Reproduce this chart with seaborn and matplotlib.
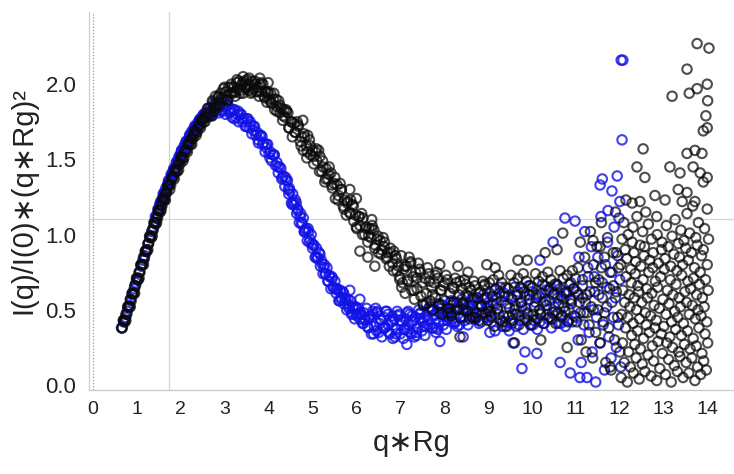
import numpy as np
import pandas as pd
import matplotlib
matplotlib.use("Agg")
import matplotlib.pyplot as plt
import seaborn as sns

# ---------------- data: (q*Rg, I(q)/I(0)*(q*Rg)^2) ----------------
black_rise = [(0.65,0.38),(0.67,0.38),(0.69,0.43),(0.71,0.43),(0.73,0.42),(0.75,0.47),(0.77,0.47),(0.79,0.52),(0.81,0.52),(0.83,0.52),
    (0.85,0.57),(0.87,0.56),(0.89,0.61),(0.91,0.61),(0.93,0.61),(0.95,0.66),(0.97,0.66),(0.99,0.71),(1.01,0.70),(1.03,0.70),
    (1.05,0.75),(1.07,0.75),(1.09,0.80),(1.11,0.80),(1.13,0.80),(1.15,0.85),(1.17,0.84),(1.19,0.89),(1.21,0.89),(1.23,0.89),
    (1.25,0.94),(1.27,0.94),(1.29,0.99),(1.31,0.98),(1.33,0.98),(1.35,1.03),(1.37,1.03),(1.39,1.08),(1.41,1.08),(1.43,1.07),
    (1.45,1.12),(1.47,1.11),(1.49,1.16),(1.51,1.16),(1.53,1.15),(1.55,1.20),(1.57,1.19),(1.59,1.24),(1.61,1.23),(1.63,1.23),
    (1.65,1.27),(1.68,1.28),(1.71,1.33),(1.74,1.33),(1.77,1.33),(1.80,1.38),(1.83,1.38),(1.86,1.43),(1.89,1.42),(1.92,1.42),
    (1.95,1.47),(1.98,1.47),(2.01,1.52),(2.04,1.51),(2.07,1.51),(2.10,1.56),(2.13,1.56),(2.16,1.60),(2.19,1.60),(2.22,1.60),
    (2.25,1.64),(2.28,1.64),(2.31,1.69),(2.34,1.68),(2.37,1.68),(2.40,1.72),(2.43,1.72),(2.46,1.76),(2.49,1.76),(2.52,1.75),
    (2.55,1.79),(2.58,1.78),
    (0.70,0.43),(0.75,0.43),(0.80,0.52),(0.85,0.52),(0.90,0.61),(0.95,0.61),(1.00,0.71),(1.05,0.71),(1.10,0.80),(1.15,0.80),
    (1.20,0.89),(1.25,0.90),(1.30,0.99),(1.35,0.99),(1.40,1.08),(1.45,1.08),(1.50,1.16),(1.55,1.16),(1.60,1.24),(1.65,1.23),
    (1.70,1.31),(1.75,1.30),(1.80,1.38),(1.85,1.37),(1.90,1.44),(1.95,1.43),(2.00,1.50),(2.05,1.49),(2.10,1.56),(2.15,1.55),
    (2.20,1.62),(2.25,1.60),(2.30,1.67),(2.35,1.66),(2.40,1.72),(2.45,1.71),(2.50,1.77),(2.55,1.75)]

black_peak = [(2.61,1.84),(2.64,1.79),(2.67,1.84),(2.70,1.79),(2.73,1.88),(2.76,1.85),(2.79,1.92),(2.82,1.86),(2.85,1.91),(2.88,1.86),
    (2.91,1.94),(2.94,1.91),(2.97,1.97),(3.00,1.90),(3.03,1.95),(3.06,1.89),(3.09,1.98),(3.12,1.94),(3.15,2.00),(3.18,1.94),
    (3.21,1.98),(3.24,1.92),(3.27,2.01),(3.30,1.97),(3.33,2.02),(3.36,1.96),(3.39,2.00),(3.42,1.94),(3.45,2.02),(3.48,1.98),
    (3.51,2.03),(3.54,1.96),(3.57,2.00),(3.60,1.94),(3.63,2.02),(3.66,1.97),(3.69,2.02),(3.72,1.95),(3.75,1.98),(3.78,1.92),
    (3.81,2.00),(3.84,1.95),(3.87,2.00),(3.90,1.92),(3.93,1.95),(3.96,1.88),(3.99,1.95),(4.02,1.90),(4.05,1.94),(4.08,1.87),
    (4.11,1.90),(4.14,1.83),(4.17,1.90),(4.20,1.85),(4.23,1.89),(4.26,1.81),(4.29,1.84),(4.32,1.76),(4.35,1.83),(4.38,1.78),
    (4.41,1.82),(3.42,2.05),(3.80,2.04),(3.99,2.01),(3.55,1.99),(3.25,1.95),(2.75,1.82),(4.78,1.76),
    (2.65,1.81),(2.72,1.89),(2.79,1.84),(2.86,1.92),(2.93,1.90),(3.00,1.98),(3.07,1.90),(3.14,1.98),(3.21,1.95),(3.28,2.03),
    (3.35,1.94),(3.42,2.01),(3.49,1.97),(3.56,2.04),(3.63,1.95),(3.70,2.00),(3.77,1.95),(3.84,2.01),(3.91,1.91),(3.98,1.94),
    (4.05,1.88),(4.12,1.94),(4.19,1.82),(4.26,1.86),(4.33,1.79),(4.40,1.83)]

black_fall = [(4.44,1.81),(4.47,1.71),(4.51,1.75),(4.54,1.65),(4.58,1.74),(4.61,1.68),(4.65,1.75),
    (4.68,1.72),(4.72,1.62),(4.75,1.65),(4.79,1.56),(4.82,1.65),(4.86,1.59),(4.89,1.66),
    (4.93,1.63),(4.96,1.53),(5.00,1.56),(5.03,1.47),(5.07,1.55),(5.10,1.49),(5.14,1.56),
    (5.17,1.52),(5.21,1.42),(5.24,1.45),(5.28,1.35),(5.31,1.44),(5.35,1.37),(5.38,1.45),
    (5.42,1.41),(5.45,1.31),(5.49,1.34),(5.52,1.24),(5.56,1.33),(5.59,1.26),(5.63,1.34),
    (5.66,1.30),(5.70,1.19),(5.73,1.23),(5.77,1.13),(5.80,1.22),(5.84,1.15),(5.87,1.23),
    (5.91,1.20),(5.94,1.09),(5.98,1.13),(6.01,1.04),(6.05,1.12),(6.08,1.06),(6.12,1.14),
    (6.15,1.11),(6.19,1.00),(6.22,1.04),(6.26,0.95),(6.29,1.04),(6.33,0.98),(6.36,1.06),
    (6.40,1.03),(6.43,0.93),(6.47,0.97),(6.50,0.88),(6.54,0.96),(6.57,0.90),(6.61,0.98),
    (6.64,0.95),(6.68,0.84),(6.71,0.88),(6.75,0.79),(6.78,0.88),(6.82,0.81),(6.85,0.89),
    (6.89,0.86),(6.92,0.76),(6.96,0.79),(6.99,0.70),
    (4.87,1.51),(6.08,0.89),(6.26,0.85),(6.42,0.79),(5.85,1.30),(6.00,1.24),(6.35,1.10),
    (4.46,1.71),(4.53,1.75),(4.60,1.68),(4.67,1.73),(4.74,1.59),(4.81,1.67),(4.88,1.55),(4.95,1.59),(5.02,1.52),(5.09,1.57),
    (5.16,1.42),(5.23,1.49),(5.30,1.37),(5.37,1.40),(5.44,1.33),(5.51,1.38),(5.58,1.23),(5.65,1.30),(5.72,1.17),(5.79,1.21),
    (5.86,1.14),(5.93,1.19),(6.00,1.05),(6.07,1.12),(6.14,1.00),(6.21,1.05),(6.28,0.99),(6.35,1.04),(6.42,0.91),(6.49,0.99),
    (6.56,0.87),(6.63,0.92),(6.70,0.85),(6.77,0.91),(6.84,0.76),(6.91,0.84),(6.98,0.72)]

black_shoulder = [(7.02,0.86),(7.05,0.68),(7.08,0.77),(7.11,0.61),(7.14,0.79),(7.17,0.69),(7.20,0.85),
    (7.23,0.81),(7.26,0.63),(7.29,0.72),(7.32,0.57),(7.35,0.75),(7.38,0.64),(7.41,0.81),
    (7.44,0.77),(7.47,0.59),(7.50,0.68),(7.53,0.53),(7.56,0.71),(7.59,0.61),(7.62,0.78),
    (7.65,0.74),(7.68,0.56),(7.71,0.65),(7.74,0.50),(7.77,0.68),(7.80,0.58),(7.83,0.75),
    (7.86,0.71),(7.89,0.53),(7.92,0.63),(7.95,0.47),(7.98,0.66),(8.01,0.56),(8.04,0.73),
    (8.07,0.70),(8.10,0.51),(8.13,0.61),(8.16,0.46),(8.19,0.65),(8.22,0.55),(8.25,0.71),
    (8.28,0.68),(8.31,0.50),(8.34,0.60),(8.37,0.45),(8.40,0.64),(8.43,0.53),(8.46,0.70),
    (8.49,0.67),(8.52,0.49),(8.55,0.59),(8.58,0.44),(8.61,0.63),(8.64,0.53),(8.67,0.69),
    (8.70,0.66),(8.73,0.48),(8.76,0.58),(8.79,0.43),(8.82,0.62),(8.85,0.52),(8.88,0.69),
    (8.91,0.66),(8.94,0.48),(8.97,0.58),(9.00,0.43),
    (7.90,0.80),(8.31,0.79),(8.54,0.75),(8.97,0.80),(9.16,0.78),(8.36,0.32),
    (7.03,0.65),(7.10,0.79),(7.17,0.70),(7.24,0.82),(7.31,0.63),(7.38,0.71),(7.45,0.75),(7.52,0.54),(7.59,0.54),(7.66,0.69),
    (7.73,0.60),(7.80,0.73),(7.87,0.54),(7.94,0.63),(8.01,0.68),(8.08,0.48),(8.15,0.48),(8.22,0.64),(8.29,0.55),(8.36,0.69),
    (8.43,0.50),(8.50,0.60),(8.57,0.65),(8.64,0.45),(8.71,0.45),(8.78,0.61),(8.85,0.53),(8.92,0.67),(8.99,0.49)]

black_plateau = [(9.03,0.68),(9.07,0.46),(9.10,0.59),(9.14,0.39),(9.17,0.64),(9.21,0.51),(9.24,0.73),(9.28,0.43),
    (9.31,0.68),(9.35,0.46),(9.38,0.59),(9.42,0.39),(9.45,0.64),(9.49,0.51),(9.52,0.73),(9.56,0.43),
    (9.59,0.68),(9.63,0.47),(9.66,0.60),(9.70,0.40),(9.73,0.65),(9.77,0.52),(9.80,0.74),(9.84,0.44),
    (9.87,0.69),(9.91,0.47),(9.94,0.60),(9.98,0.40),(10.01,0.65),(10.05,0.52),(10.08,0.74),(10.12,0.44),
    (10.15,0.69),(10.19,0.47),(10.22,0.61),(10.26,0.41),(10.29,0.66),(10.33,0.53),(10.36,0.75),(10.40,0.45),
    (10.43,0.70),(10.47,0.48),(10.50,0.61),(10.54,0.41),(10.57,0.66),(10.61,0.54),(10.64,0.76),(10.68,0.46),
    (10.71,0.71),(10.75,0.49),(10.78,0.62),(10.82,0.42),(10.85,0.67),(10.89,0.54),(10.92,0.76),(10.96,0.46),
    (10.99,0.71),
    (9.68,0.83),(9.89,0.83),(10.70,1.01),(10.30,0.88),(10.57,0.90),(9.60,0.28),(10.20,0.30),(10.80,0.25),
    (9.05,0.49),(9.12,0.70),(9.19,0.54),(9.26,0.61),(9.33,0.42),(9.40,0.65),(9.47,0.46),(9.54,0.57),(9.61,0.50),(9.68,0.71),
    (9.75,0.55),(9.82,0.62),(9.89,0.43),(9.96,0.66),(10.03,0.47),(10.10,0.58),(10.17,0.50),(10.24,0.72),(10.31,0.56),(10.38,0.63),
    (10.45,0.44),(10.52,0.67),(10.59,0.48),(10.66,0.59),(10.73,0.52),(10.80,0.73),(10.87,0.57),(10.94,0.64)]

black_scatter = [(11.02,0.42),(11.05,0.78),(11.08,0.55),(11.10,0.95),(11.12,0.30),(11.15,0.66),(11.18,0.48),(11.20,0.85),
    (11.23,0.22),(11.25,0.60),(11.28,0.72),(11.30,0.40),(11.33,1.02),(11.35,0.52),(11.38,0.18),(11.40,0.80),
    (11.42,0.62),(11.45,0.35),(11.48,0.92),(11.50,0.50),(11.52,0.70),(11.55,0.28),(11.58,1.08),(11.60,0.58),
    (11.62,0.42),(11.65,0.85),(11.68,0.15),(11.70,0.65),(11.72,0.98),(11.75,0.38),(11.78,0.75),(11.80,0.10),
    (11.82,0.55),(11.85,0.88),(11.88,0.30),(11.90,1.15),(11.92,0.62),(11.95,0.45),(11.97,0.78),(12.00,0.22),
    (11.39,0.96),(11.55,0.92),(11.78,0.12),(11.15,0.58),(11.45,0.68),(11.65,0.48),(11.85,0.66),(11.05,0.60),
    (11.25,0.48),(11.58,0.78),(11.92,0.88)]

black_tail = [(12.03,0.05),(12.06,0.28),(12.04,0.47),(12.07,0.63),(12.02,0.80),(12.05,0.97),(12.14,1.23),
    (12.10,0.15),(12.13,0.38),(12.11,0.55),(12.14,0.72),(12.12,0.90),(12.09,1.08),
    (12.17,0.02),(12.20,0.22),(12.18,0.45),(12.21,0.60),(12.16,0.84),(12.19,1.00),(12.28,1.21),
    (12.24,0.12),(12.27,0.33),(12.23,0.52),(12.26,0.68),(12.25,0.77),(12.28,0.95),
    (12.31,0.08),(12.34,0.27),(12.30,0.41),(12.33,0.58),(12.35,0.74),(12.32,0.88),(12.30,1.05),
    (12.37,0.18),(12.40,0.36),(12.38,0.50),(12.41,0.66),(12.36,0.82),(12.39,1.12),(12.39,1.45),
    (12.44,0.04),(12.47,0.24),(12.45,0.44),(12.43,0.62),(12.48,0.79),(12.46,0.93),(12.46,1.22),
    (12.51,0.14),(12.54,0.31),(12.50,0.55),(12.53,0.70),(12.55,0.86),(12.52,1.02),(12.53,1.57),
    (12.57,0.09),(12.60,0.40),(12.58,0.48),(12.61,0.64),(12.56,0.92),(12.59,1.15),(12.57,1.38),
    (12.64,0.20),(12.67,0.35),(12.63,0.58),(12.66,0.75),(12.68,0.83),(12.65,1.07),
    (12.71,0.06),(12.74,0.26),(12.70,0.46),(12.73,0.61),(12.75,0.78),(12.72,0.97),
    (12.77,0.16),(12.80,0.38),(12.78,0.53),(12.81,0.69),(12.76,0.88),(12.80,1.26),
    (12.84,0.03),(12.87,0.29),(12.83,0.43),(12.86,0.65),(12.88,0.81),(12.85,1.00),(12.84,1.12),
    (12.91,0.11),(12.94,0.34),(12.90,0.51),(12.93,0.72),(12.95,0.90),
    (12.97,0.21),(13.00,0.39),(12.98,0.57),(13.01,0.77),(12.96,0.95),(13.03,1.23),
    (13.04,0.07),(13.07,0.28),(13.05,0.47),(13.08,0.63),(13.03,0.84),(13.06,1.06),
    (13.11,0.17),(13.14,0.32),(13.12,0.54),(13.15,0.70),(13.10,0.92),(13.14,1.45),
    (13.17,0.02),(13.20,0.25),(13.18,0.42),(13.21,0.60),(13.16,0.79),(13.19,0.99),(13.19,1.92),
    (13.24,0.13),(13.27,0.37),(13.25,0.49),(13.28,0.67),(13.23,0.87),(13.26,1.10),
    (13.31,0.09),(13.34,0.22),(13.32,0.45),(13.35,0.58),(13.30,0.76),(13.33,0.94),(13.33,1.30),
    (13.37,0.19),(13.40,0.33),(13.38,0.52),(13.41,0.73),(13.36,0.85),(13.39,1.03),(13.37,1.41),(13.42,1.22),
    (13.44,0.05),(13.47,0.27),(13.45,0.41),(13.48,0.62),(13.43,0.80),(13.46,0.96),
    (13.51,0.15),(13.54,0.36),(13.52,0.55),(13.55,0.69),(13.50,0.91),(13.53,1.14),(13.53,1.28),(13.53,1.54),(13.58,1.94),(13.53,2.10),
    (13.57,0.08),(13.60,0.24),(13.58,0.47),(13.61,0.64),(13.56,0.83),(13.59,1.01),
    (13.64,0.18),(13.67,0.31),(13.65,0.53),(13.68,0.71),(13.63,0.88),(13.66,1.19),(13.67,1.45),
    (13.71,0.03),(13.74,0.26),(13.72,0.44),(13.75,0.60),(13.70,0.78),(13.73,0.98),(13.71,1.22),(13.71,1.56),(13.76,1.97),(13.76,2.27),
    (13.77,0.12),(13.80,0.38),(13.78,0.50),(13.81,0.67),(13.76,0.93),(13.79,1.08),(13.83,1.41),
    (13.84,0.07),(13.87,0.21),(13.85,0.46),(13.88,0.58),(13.83,0.75),(13.86,0.86),(13.87,1.54),
    (13.91,0.16),(13.94,0.34),(13.92,0.52),(13.95,0.70),(13.90,0.90),(13.93,1.04),(13.90,1.35),(13.90,1.69),(13.96,1.79),
    (13.97,0.10),(14.00,0.28),(13.98,0.42),(14.01,0.63),(13.99,0.80),(14.02,0.97),(13.99,1.17),(13.99,1.38),(13.99,1.71),(14.00,1.89),(13.99,2.00),(14.03,2.24)]

blue_rise = [(0.66,0.38),(0.70,0.42),(0.74,0.45),(0.78,0.49),(0.82,0.53),(0.86,0.57),(0.90,0.60),(0.94,0.64),(0.98,0.68),(1.02,0.71),
    (1.06,0.75),(1.10,0.79),(1.14,0.83),(1.18,0.86),(1.22,0.90),(1.26,0.94),(1.30,0.98),(1.34,1.02),(1.38,1.05),
    (1.42,1.12),(1.45,1.11),(1.47,1.14),(1.50,1.17),(1.52,1.20),(1.55,1.19),(1.57,1.22),(1.60,1.25),(1.62,1.28),(1.65,1.27),
    (1.67,1.29),(1.70,1.33),(1.72,1.35),(1.75,1.34),(1.77,1.37),(1.80,1.40),(1.82,1.42),(1.85,1.41),(1.87,1.44),(1.90,1.47),
    (1.92,1.49),(1.95,1.49),(1.97,1.51),(2.00,1.54),(2.02,1.56),(2.05,1.55),(2.07,1.57),(2.10,1.60),(2.12,1.62),(2.15,1.60),
    (2.17,1.62),(2.20,1.65),(2.22,1.67),(2.25,1.65),(2.27,1.67),(2.30,1.70),(2.32,1.72),(2.35,1.70),(2.37,1.72),(2.40,1.74),
    (2.42,1.76),(2.45,1.74),(2.47,1.76),(2.50,1.78),(2.52,1.80),(2.55,1.78),(2.57,1.79),(2.60,1.81),
    (1.48,1.17),(1.54,1.22),(1.60,1.27),(1.66,1.31),(1.72,1.36),(1.78,1.40),(1.84,1.44),(1.90,1.48),(1.96,1.52),(2.02,1.56),
    (2.08,1.59),(2.14,1.62),(2.20,1.66),(2.26,1.69),(2.32,1.72),(2.38,1.74),(2.44,1.77),(2.50,1.79),(2.56,1.81)]

blue_peak = [(2.63,1.84),(2.66,1.80),(2.69,1.83),(2.72,1.79),(2.75,1.85),
    (2.78,1.87),(2.81,1.82),(2.84,1.86),(2.87,1.81),(2.90,1.87),
    (2.93,1.88),(2.96,1.83),(2.99,1.85),(3.02,1.80),(3.05,1.86),
    (3.08,1.86),(3.11,1.81),(3.14,1.83),(3.17,1.78),(3.20,1.83),
    (3.23,1.83),(3.26,1.78),(3.29,1.80),(3.32,1.75),(3.35,1.80),
    (3.38,1.80),(3.41,1.75),(3.44,1.77),(3.47,1.72),(3.50,1.77),
    (3.53,1.77),(3.56,1.71),(3.59,1.73),(3.62,1.67),(3.65,1.72),
    (3.68,1.72),(3.71,1.66),(3.74,1.68),(3.77,1.61),(3.80,1.66),
    (3.83,1.66),(3.86,1.60),(3.89,1.61),(3.92,1.55),(3.95,1.60),
    (3.98,1.60),(4.01,1.54),(4.04,1.55),(4.07,1.49),(4.10,1.53),
    (4.13,1.53),(4.16,1.46),(4.19,1.48),(4.22,1.41),(4.25,1.45),
    (4.28,1.44),(4.31,1.38),(4.34,1.39),(4.37,1.32),(4.40,1.36),
    (2.68,1.79),(2.77,1.87),(2.86,1.85),(2.95,1.82),(3.04,1.87),(3.13,1.82),(3.22,1.77),(3.31,1.82),(3.40,1.77),(3.49,1.72),
    (3.58,1.75),(3.67,1.69),(3.76,1.63),(3.85,1.65),(3.94,1.58),(4.03,1.51),(4.12,1.53),(4.21,1.45),(4.30,1.37),(4.39,1.38)]

blue_fall = [(4.43,1.36),(4.46,1.27),(4.49,1.29),(4.52,1.21),(4.55,1.27),(4.58,1.20),
    (4.61,1.23),(4.64,1.14),(4.67,1.16),(4.70,1.08),(4.73,1.14),(4.76,1.08),
    (4.79,1.11),(4.82,1.02),(4.85,1.04),(4.88,0.96),(4.91,1.02),(4.94,0.97),
    (4.97,1.00),(5.00,0.91),(5.03,0.93),(5.06,0.85),(5.09,0.91),(5.12,0.85),
    (5.15,0.88),(5.18,0.79),(5.21,0.81),(5.24,0.74),(5.27,0.80),(5.30,0.74),
    (5.33,0.78),(5.36,0.69),(5.39,0.72),(5.42,0.64),(5.45,0.71),(5.48,0.65),
    (5.51,0.69),(5.54,0.61),(5.57,0.63),(5.60,0.56),(5.63,0.63),(5.66,0.58),
    (5.69,0.62),(5.72,0.54),(5.75,0.57),(5.78,0.50),(5.81,0.57),(5.84,0.52),
    (5.87,0.56),(5.90,0.48),(5.93,0.51),(5.96,0.44),(5.99,0.51),(6.02,0.47),
    (6.05,0.51),(6.08,0.44),(6.11,0.47),(6.14,0.41),(6.17,0.48),(6.20,0.44),
    (5.85,0.63),(6.08,0.57),
    (4.45,1.30),(4.54,1.20),(4.63,1.21),(4.72,1.12),(4.81,1.02),(4.90,1.04),(4.99,0.94),(5.08,0.85),(5.17,0.87),(5.26,0.78),
    (5.35,0.69),(5.44,0.72),(5.53,0.64),(5.62,0.56),(5.71,0.61),(5.80,0.54),(5.89,0.47),(5.98,0.52),(6.07,0.47),(6.16,0.41),
    (4.47,1.31),(4.56,1.22),(4.66,1.17),(4.75,1.07),(4.84,1.03),(4.93,0.95),(5.02,0.93),(5.11,0.84),(5.20,0.83),(5.29,0.74),
    (5.38,0.73),(5.47,0.65),(5.56,0.64),(5.65,0.57),(5.74,0.58),(5.83,0.51),(5.92,0.52),(6.01,0.46),(6.10,0.48),(6.19,0.43)]

blue_dip = [(6.23,0.51),(6.27,0.38),(6.30,0.45),(6.34,0.34),(6.37,0.47),(6.41,0.39),(6.44,0.51),
    (6.48,0.49),(6.51,0.35),(6.55,0.43),(6.58,0.32),(6.62,0.45),(6.65,0.38),(6.69,0.49),
    (6.72,0.47),(6.76,0.34),(6.79,0.42),(6.83,0.31),(6.86,0.44),(6.90,0.37),(6.93,0.49),
    (6.97,0.47),(7.00,0.34),(7.04,0.42),(7.07,0.31),(7.11,0.44),(7.14,0.37),(7.18,0.49),
    (7.21,0.47),(7.25,0.34),(7.28,0.42),(7.32,0.32),(7.35,0.45),(7.39,0.38),(7.42,0.50),
    (7.46,0.48),(7.49,0.36),(7.53,0.44),(7.56,0.33),(7.60,0.46),(7.63,0.40),(7.67,0.52),
    (7.70,0.50),(7.74,0.38),(7.77,0.46),(7.81,0.35),(7.84,0.49),(7.88,0.42),(7.91,0.54),
    (7.95,0.53),(7.98,0.40),(8.02,0.48),(8.05,0.37),(8.09,0.51),(8.12,0.44),(8.16,0.56),
    (8.19,0.54),(8.23,0.41),(8.26,0.50),(8.30,0.39),(8.33,0.52),(8.37,0.45),(8.40,0.57),
    (8.44,0.55),(8.47,0.43),(8.51,0.51),(8.54,0.40),(8.58,0.53),(8.61,0.46),(8.65,0.58),
    (8.68,0.57),(8.72,0.44),(8.75,0.52),(8.79,0.41),(8.82,0.54),(8.86,0.47),(8.89,0.60),
    (8.93,0.58),(8.96,0.45),(9.00,0.53),
    (7.15,0.27),(7.90,0.29),(8.43,0.32),
    (6.25,0.39),(6.32,0.46),(6.39,0.34),(6.46,0.48),(6.53,0.41),(6.60,0.38),(6.67,0.49),(6.74,0.35),(6.81,0.43),(6.88,0.32),
    (6.95,0.46),(7.02,0.40),(7.09,0.37),(7.16,0.48),(7.23,0.35),(7.30,0.43),(7.37,0.33),(7.44,0.47),(7.51,0.42),(7.58,0.39),
    (7.65,0.51),(7.72,0.38),(7.79,0.47),(7.86,0.37),(7.93,0.51),(8.00,0.46),(8.07,0.43),(8.14,0.55),(8.21,0.42),(8.28,0.51),
    (8.35,0.40),(8.42,0.54),(8.49,0.49),(8.56,0.46),(8.63,0.57),(8.70,0.45),(8.77,0.53),(8.84,0.42),(8.91,0.57),(8.98,0.51),
    (6.28,0.44),(6.37,0.49),(6.46,0.36),(6.55,0.44),(6.64,0.38),(6.73,0.40),(6.82,0.46),(6.91,0.34),(7.00,0.43),(7.09,0.37),
    (7.18,0.40),(7.27,0.46),(7.36,0.35),(7.45,0.44),(7.54,0.39),(7.63,0.43),(7.72,0.49),(7.81,0.38),(7.90,0.48),(7.99,0.43),
    (8.08,0.46),(8.17,0.53),(8.26,0.42),(8.35,0.51),(8.44,0.45),(8.53,0.49),(8.62,0.55),(8.71,0.44),(8.80,0.53),(8.89,0.48),
    (8.98,0.51)]

blue_plateau = [(9.04,0.61),(9.08,0.42),(9.12,0.54),(9.16,0.36),(9.20,0.58),(9.24,0.47),(9.28,0.65),(9.32,0.39),
    (9.36,0.61),(9.40,0.42),(9.44,0.54),(9.48,0.36),(9.52,0.58),(9.56,0.47),(9.60,0.65),(9.64,0.39),
    (9.68,0.62),(9.72,0.43),(9.76,0.55),(9.80,0.37),(9.84,0.59),(9.88,0.48),(9.92,0.66),(9.96,0.40),
    (10.00,0.62),(10.04,0.43),(10.08,0.55),(10.12,0.37),(10.16,0.59),(10.20,0.48),(10.24,0.67),(10.28,0.41),
    (10.32,0.63),(10.36,0.44),(10.40,0.56),(10.44,0.38),(10.48,0.60),(10.52,0.49),(10.56,0.67),(10.60,0.41),
    (10.64,0.64),(10.68,0.45),(10.72,0.57),(10.76,0.39),(10.80,0.61),(10.84,0.50),(10.88,0.68),(10.92,0.42),
    (10.96,0.64),(11.00,0.45),
    (9.77,0.11),(9.04,0.35),(9.57,0.28),(9.84,0.22),(10.11,0.21),(10.64,0.15),(10.87,0.08),(11.09,0.05),
    (10.75,1.11),(10.98,1.09),(10.48,0.95),(10.18,0.83),
    (9.06,0.45),(9.14,0.63),(9.22,0.50),(9.30,0.56),(9.38,0.39),(9.46,0.59),(9.54,0.41),(9.62,0.53),(9.70,0.46),(9.78,0.64),
    (9.86,0.51),(9.94,0.57),(10.02,0.40),(10.10,0.60),(10.18,0.42),(10.26,0.55),(10.34,0.47),(10.42,0.65),(10.50,0.52),(10.58,0.58),
    (10.66,0.41),(10.74,0.61),(10.82,0.43),(10.90,0.56)]

blue_scatter = [(11.02,0.62),(11.05,0.30),(11.07,0.85),(11.10,0.48),(11.12,0.15),(11.15,0.70),(11.18,0.40),(11.20,1.02),
    (11.22,0.55),(11.25,0.05),(11.27,0.78),(11.30,0.35),(11.32,0.62),(11.35,0.92),(11.37,0.22),(11.40,0.50),
    (11.42,0.72),(11.45,0.02),(11.47,0.45),(11.50,0.85),(11.52,0.60),(11.55,0.28),(11.57,1.12),(11.60,0.68),
    (11.62,0.40),(11.65,0.10),(11.67,0.80),(11.70,0.52),(11.72,0.95),(11.75,0.32),(11.77,0.64),(11.80,0.18),
    (11.82,0.75),(11.85,0.45),(11.87,1.05),(11.90,0.58),(11.92,0.25),(11.95,0.86),(11.97,0.40),(12.00,0.70),
    (12.02,0.12),(11.55,1.33),(11.60,1.37),(11.82,1.29),(11.94,1.39),(12.00,1.22),(11.73,1.16),(11.98,1.11),
    (12.05,1.63),(12.03,2.16),(12.07,2.16)]

black_points = black_rise + black_peak + black_fall + black_shoulder + black_plateau + black_scatter + black_tail
blue_points = blue_rise + blue_peak + blue_fall + blue_dip + blue_plateau + blue_scatter

df_black = pd.DataFrame(black_points, columns=["qRg", "kratky"])
df_blue = pd.DataFrame(blue_points, columns=["qRg", "kratky"])

# ---------------- styling ----------------
sns.set_style("white")
plt.rcParams["font.family"] = ["Liberation Sans", "DejaVu Sans"]

fig = plt.figure(figsize=(7.34, 4.74), dpi=100)
ax = fig.add_axes([89 / 734, 84 / 474, 645 / 734, 378 / 474])

ax.axhline(3 / np.e, color="#d4d4d4", lw=0.9, zorder=0)
ax.axvline(np.sqrt(3), color="#d4d4d4", lw=0.9, zorder=0)
ax.axvline(0.0, color="#8c8ce0", lw=0.9, ls=(0, (1, 1.5)), zorder=0)

sns.scatterplot(data=df_blue, x="qRg", y="kratky", ax=ax, marker="o", s=46,
                facecolor="none", edgecolor="#1212e8", linewidth=1.5, alpha=0.8)
sns.scatterplot(data=df_black, x="qRg", y="kratky", ax=ax, marker="o", s=46,
                facecolor="none", edgecolor="#0a0a0a", linewidth=1.5, alpha=0.72)

ax.set_xlim(-0.09, 14.6)
ax.set_ylim(-0.033, 2.48)
ax.set_xticks(range(0, 15))
ax.set_yticks([0.0, 0.5, 1.0, 1.5, 2.0])
ax.set_yticklabels(["0.0", "0.5", "1.0", "1.5", "2.0"])

for side in ["top", "right"]:
    ax.spines[side].set_visible(False)
ax.spines["bottom"].set_color("#c8c8c8")
ax.spines["bottom"].set_linewidth(0.9)
ax.spines["left"].set_color("#cfcfcf")
ax.spines["left"].set_linewidth(0.9)
ax.spines["left"].set_linestyle((0, (1, 1)))

ax.tick_params(axis="x", length=3, width=0.8, color="#b8b8b8", labelsize=14, pad=5, labelcolor="#222222")
ax.tick_params(axis="y", length=2, width=0.8, color="#b8b8b8", labelsize=16, pad=7, labelcolor="#222222")

ax.set_xlabel("q\u2217Rg", fontsize=21, color="#222222", labelpad=8)
ax.set_ylabel("I(q)/I(0)\u2217(q\u2217Rg)\u00b2", fontsize=21, color="#222222", labelpad=6)

fig.savefig("out.png", dpi=100)
